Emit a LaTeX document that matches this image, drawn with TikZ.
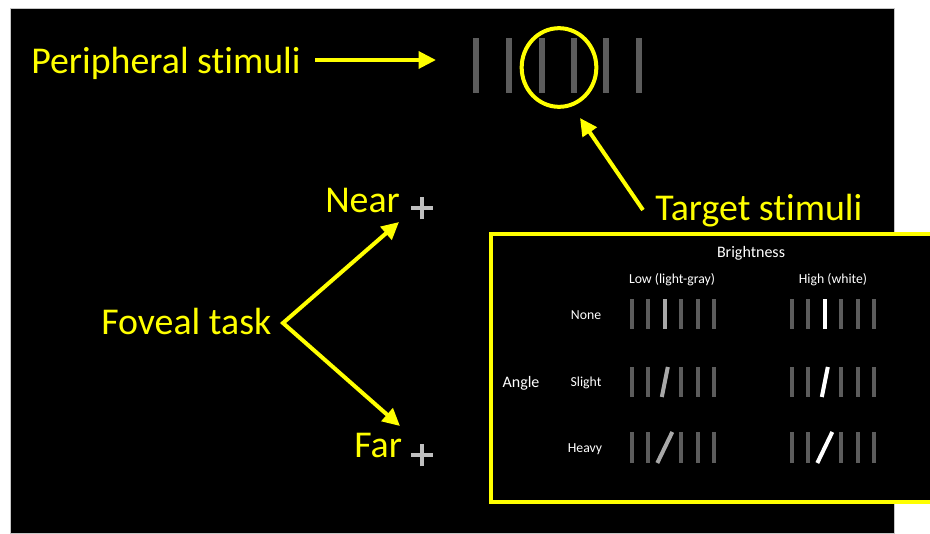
\documentclass[tikz,border=0pt]{standalone}
\usepackage{fontspec}
\setmainfont{Carlito}[Ligatures={NoCommon}]
\usetikzlibrary{arrows.meta,shapes.geometric}

\definecolor{hiyellow}{HTML}{FFFF00}
\definecolor{bargray}{HTML}{5C5C5C}
\definecolor{lightbar}{HTML}{A8A8A8}
\definecolor{crossgray}{HTML}{BFBFBF}

\tikzset{
  biglabel/.style={text=hiyellow, inner sep=0pt, font=\fontsize{28.4}{32}\selectfont},
  headlabel/.style={text=white, inner sep=0pt, font=\fontsize{12}{14}\selectfont},
  smalllabel/.style={text=white, inner sep=0pt, font=\fontsize{10.3}{12}\selectfont},
  yarrow/.style={draw=hiyellow, line width=3pt, line join=miter,
    -{Triangle[length=13pt,width=12.5pt]}},
  bigbar/.style={draw=bargray, line width=4.5pt},
  gridbar/.style={draw=bargray, line width=3pt},
  fixcross/.style={draw=crossgray, line width=2.3pt},
}

\begin{document}
\begin{tikzpicture}[x=0.75pt,y=-0.75pt]
  \useasboundingbox (0,0) rectangle (930,533);
  \fill[white] (0,0) rectangle (930,533);
  \filldraw[fill=black, draw=gray!45, line width=0.6pt] (10,8) rectangle (894,533);

  % peripheral array of bars with the ring round the targets
  \foreach \x in {476,509,542,574,606,639}
    \draw[bigbar] (\x,38) -- (\x,93);
  \node[draw=hiyellow, line width=3pt, ellipse, inner sep=0pt,
        minimum width=56pt, minimum height=59pt] (target) at (559,67.5) {};

  % yellow captions
  \node[biglabel, anchor=base west] (periph) at (31,73) {Peripheral stimuli};
  \node[biglabel, anchor=base west] (targetlbl) at (655,220) {Target stimuli};
  \node[biglabel, anchor=base west] (foveal) at (101,334) {Foveal task};
  \node[biglabel, anchor=base west] (near) at (325,212) {Near};
  \node[biglabel, anchor=base west] (far) at (354,457) {Far};

  % fixation crosses
  \coordinate (nearcross) at (422,208);
  \coordinate (farcross) at (422,455);
  \foreach \c in {nearcross,farcross} {
    \draw[fixcross] ([xshift=-8pt]\c) -- ([xshift=8pt]\c);
    \draw[fixcross] ([yshift=-8.5pt]\c) -- ([yshift=8.5pt]\c);
  }

  % arrows
  \coordinate (pstart) at (315,60);
  \coordinate (ptip) at (436,60);
  \draw[yarrow] (pstart) -- (ptip);

  \coordinate (tstart) at (643,210);
  \coordinate (ttip) at (580,118);
  \draw[yarrow] (tstart) -- (ttip);

  \coordinate (fvertex) at (283,323);
  \coordinate (neartip) at (399,222);
  \coordinate (fartip) at (400,426);
  \draw[yarrow, {Triangle[length=13pt,width=12.5pt]}-{Triangle[length=13pt,width=12.5pt]}]
    (neartip) -- (fvertex) -- (fartip);

  % inset panel of stimulus conditions
  \fill[black] (491,234) rectangle (930,502);
  \draw[hiyellow, line width=2.4pt] (934,234) -- (491,234) -- (491,502) -- (934,502);

  \node[headlabel, anchor=base] (bright) at (751,257) {Brightness};
  \node[smalllabel, anchor=base] (low) at (672,283) {Low (light-gray)};
  \node[smalllabel, anchor=base] (high) at (833,283) {High (white)};
  \node[headlabel, anchor=base] (angle) at (521,387) {Angle};
  \node[smalllabel, anchor=base] (none) at (586,319) {None};
  \node[smalllabel, anchor=base] (slight) at (586,386) {Slight};
  \node[smalllabel, anchor=base] (heavy) at (585,452) {Heavy};

  % rows: top y, bottom y, half horizontal lean of the target bar
  \foreach \top/\bot/\lean in {299/329/0, 367/397/3, 432/463/7.5} {
    % columns: first bar x, colour of the target bar
    \foreach \xo/\tcol in {632/lightbar, 792/white} {
      \foreach \i in {0,1,3,4,5}
        \draw[gridbar] (\xo+\i*16.4,\top) -- (\xo+\i*16.4,\bot);
      \draw[gridbar, draw=\tcol] (\xo+32.8-\lean,\bot) -- (\xo+32.8+\lean,\top);
    }
  }
\end{tikzpicture}
\end{document}
